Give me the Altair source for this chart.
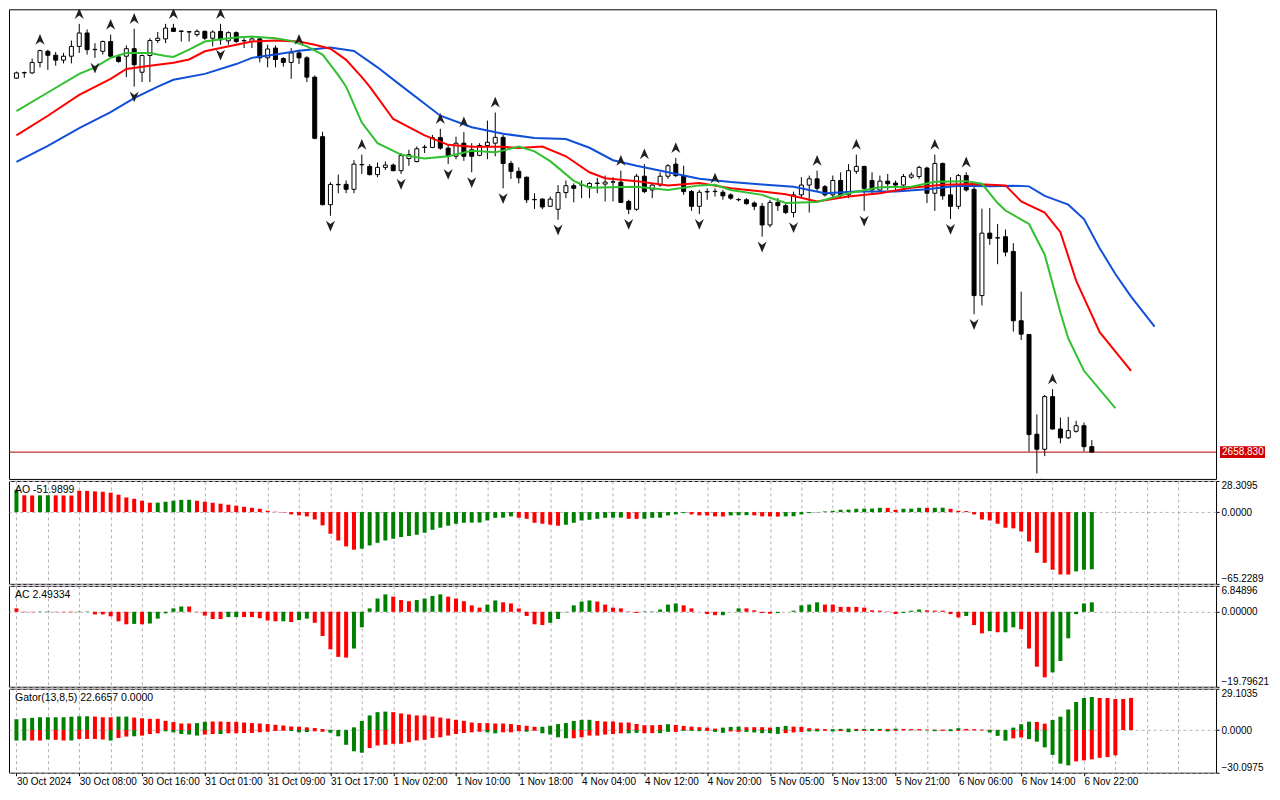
import altair as alt
import pandas as pd

# ------------------------------------------------------------------ data
OPEN = [
    2773.2, 2774.8, 2774.8, 2778.0, 2781.4, 2780.2, 2778.7, 2779.9, 2782.9, 2787.0,
    2781.9, 2781.4, 2784.4, 2779.7, 2779.9, 2782.2, 2775.0, 2780.1, 2784.7, 2785.2,
    2788.5, 2787.6, 2787.3, 2786.5, 2787.5, 2785.4, 2787.5, 2784.6, 2787.1, 2784.6,
    2784.4, 2785.2, 2779.4, 2782.4, 2779.2, 2778.0, 2780.9, 2779.4, 2773.5, 2755.3,
    2734.5, 2740.6, 2740.7, 2739.2, 2746.7, 2746.2, 2743.7, 2745.9, 2746.6, 2744.9,
    2748.6, 2747.7, 2752.0, 2752.0, 2755.0, 2751.8, 2749.3, 2753.3, 2751.3, 2749.6,
    2752.6, 2753.3, 2755.1, 2747.1, 2744.7, 2742.9, 2736.0, 2736.2, 2734.0, 2733.1,
    2738.2, 2740.3, 2740.5, 2740.0, 2741.0, 2740.8, 2741.4, 2741.4, 2735.5, 2733.1,
    2743.2, 2739.0, 2740.5, 2743.2, 2746.9, 2743.4, 2738.5, 2734.0, 2738.4, 2738.5,
    2738.3, 2737.5, 2736.0, 2736.0, 2735.0, 2734.0, 2728.3, 2735.2, 2734.2, 2732.1,
    2737.5, 2740.5, 2742.4, 2740.0, 2737.5, 2741.9, 2737.5, 2744.7, 2746.2, 2741.9,
    2739.0, 2741.7, 2741.1, 2740.5, 2742.9, 2743.1, 2745.7, 2738.0, 2747.1, 2737.5,
    2734.0, 2743.4, 2739.2, 2706.7, 2725.8, 2724.3, 2724.7, 2720.2, 2699.0, 2694.8,
    2664.3, 2659.7, 2675.8, 2665.9, 2663.2, 2665.2, 2666.9, 2660.5,
]
HIGH = [
    2775.2, 2775.2, 2779.2, 2781.9, 2781.9, 2781.2, 2780.9, 2784.7, 2789.8, 2788.1,
    2783.9, 2784.7, 2786.5, 2780.4, 2783.2, 2788.3, 2780.4, 2785.4, 2787.3, 2789.8,
    2789.8, 2787.8, 2787.6, 2788.1, 2787.8, 2787.8, 2789.8, 2787.5, 2787.5, 2785.4,
    2785.6, 2785.4, 2783.4, 2783.2, 2779.6, 2782.4, 2781.9, 2779.9, 2774.0, 2756.8,
    2741.4, 2743.7, 2741.9, 2748.1, 2749.8, 2746.9, 2747.4, 2747.7, 2747.1, 2750.3,
    2751.3, 2752.3, 2752.8, 2755.8, 2757.7, 2752.8, 2755.3, 2756.7, 2753.3, 2753.3,
    2760.2, 2762.7, 2755.8, 2747.9, 2745.9, 2743.1, 2738.0, 2736.5, 2737.0, 2740.5,
    2741.9, 2741.0, 2741.9, 2741.4, 2742.7, 2743.4, 2742.9, 2744.9, 2736.0, 2743.9,
    2746.9, 2740.9, 2744.4, 2746.9, 2748.8, 2746.4, 2739.0, 2739.0, 2739.5, 2739.5,
    2739.0, 2738.0, 2736.5, 2736.5, 2735.5, 2735.0, 2736.0, 2736.5, 2735.0, 2738.5,
    2742.9, 2743.4, 2744.9, 2740.5, 2743.4, 2744.4, 2746.9, 2749.8, 2746.4, 2744.4,
    2743.4, 2743.9, 2741.9, 2743.9, 2744.4, 2746.4, 2746.1, 2749.8, 2747.4, 2742.9,
    2743.9, 2744.4, 2740.9, 2733.3, 2733.5, 2728.6, 2726.9, 2722.7, 2707.9, 2694.9,
    2670.4, 2676.3, 2678.1, 2669.4, 2669.6, 2668.4, 2667.9, 2662.5,
]
LOW = [
    2773.0, 2773.3, 2774.5, 2776.5, 2775.7, 2777.0, 2777.7, 2777.7, 2780.9, 2780.4,
    2779.4, 2780.4, 2779.4, 2777.9, 2773.5, 2770.6, 2772.0, 2772.0, 2783.9, 2783.9,
    2787.3, 2784.4, 2784.4, 2785.9, 2784.9, 2782.9, 2783.4, 2783.4, 2783.9, 2782.4,
    2782.4, 2778.0, 2776.5, 2776.5, 2776.7, 2773.0, 2777.5, 2772.0, 2754.5, 2734.3,
    2731.1, 2738.0, 2738.0, 2738.0, 2743.9, 2743.4, 2742.9, 2745.1, 2744.7, 2743.9,
    2746.4, 2747.4, 2750.3, 2751.8, 2751.3, 2746.9, 2748.4, 2747.9, 2744.4, 2749.3,
    2748.4, 2749.3, 2739.5, 2742.4, 2741.0, 2735.0, 2733.2, 2733.1, 2733.8, 2729.9,
    2736.5, 2735.2, 2736.5, 2736.5, 2738.0, 2735.5, 2735.5, 2735.0, 2731.6, 2732.6,
    2738.0, 2736.5, 2740.0, 2742.4, 2742.9, 2737.5, 2732.6, 2731.6, 2736.0, 2737.0,
    2736.0, 2736.0, 2735.5, 2734.5, 2732.8, 2724.7, 2727.6, 2732.6, 2731.6, 2730.6,
    2736.5, 2732.1, 2738.5, 2737.0, 2736.5, 2736.5, 2736.5, 2743.9, 2732.6, 2737.5,
    2738.5, 2739.0, 2739.0, 2739.0, 2742.4, 2742.4, 2735.0, 2732.6, 2736.0, 2730.1,
    2733.1, 2738.5, 2701.0, 2703.7, 2722.2, 2716.3, 2718.7, 2695.7, 2693.1, 2659.0,
    2652.3, 2657.6, 2665.7, 2661.5, 2662.8, 2664.8, 2659.0, 2658.8,
]
CLOSE = [
    2774.8, 2774.9, 2778.0, 2781.6, 2780.2, 2778.7, 2779.9, 2782.9, 2787.0, 2781.9,
    2782.0, 2784.4, 2779.9, 2778.3, 2782.2, 2777.3, 2780.1, 2784.7, 2785.4, 2788.5,
    2787.5, 2787.5, 2787.4, 2787.5, 2785.4, 2787.3, 2784.9, 2787.1, 2784.4, 2784.7,
    2785.2, 2779.4, 2782.1, 2778.9, 2778.0, 2780.9, 2779.4, 2773.5, 2754.8, 2734.5,
    2740.7, 2740.7, 2739.2, 2746.9, 2746.8, 2743.7, 2745.9, 2746.6, 2744.9, 2749.5,
    2749.8, 2751.6, 2752.1, 2755.0, 2751.8, 2749.3, 2753.3, 2749.3, 2749.3, 2752.6,
    2753.6, 2755.1, 2747.1, 2744.7, 2742.7, 2736.0, 2736.1, 2733.8, 2736.2, 2738.2,
    2740.3, 2739.5, 2740.6, 2741.0, 2741.1, 2741.4, 2741.5, 2735.2, 2733.1, 2743.2,
    2738.5, 2740.5, 2743.2, 2746.4, 2743.4, 2738.5, 2734.0, 2738.3, 2738.5, 2738.6,
    2737.2, 2736.5, 2736.1, 2734.8, 2734.0, 2728.3, 2735.2, 2734.2, 2732.1, 2737.5,
    2740.5, 2742.4, 2739.5, 2737.5, 2741.9, 2737.5, 2744.9, 2746.2, 2739.5, 2739.0,
    2741.7, 2740.9, 2740.5, 2743.1, 2743.6, 2745.9, 2738.0, 2747.1, 2737.2, 2734.0,
    2743.4, 2739.0, 2706.7, 2725.8, 2724.2, 2724.4, 2720.0, 2699.0, 2694.9, 2664.2,
    2659.7, 2675.8, 2665.9, 2663.2, 2665.4, 2666.9, 2660.5, 2658.83,
]

FRACTAL_UP = [3, 8, 12, 15, 20, 26, 36, 44, 54, 57, 61, 77, 80, 84, 89, 102, 107, 117, 121, 132]
FRACTAL_DOWN = [10, 15, 26, 40, 49, 55, 58, 62, 69, 78, 87, 95, 99, 108, 119, 122, 130]

# Alligator (jaw / teeth / lips), shifted lines, read at bar positions
JAW_IDX = [0, 4, 8, 12, 15, 18, 20, 24, 28, 30, 33, 36, 40, 43, 46, 49, 54, 58, 62, 66,
           70, 73, 76, 79, 83, 87, 91, 95, 99, 103, 107, 112, 116, 120, 124, 127, 129,
           131, 134, 136, 138, 140, 142, 145]
JAW_VAL = [2747.6, 2752.5, 2757.9, 2762.8, 2767.1, 2770.6, 2772.7, 2774.5, 2777.5, 2779.4,
           2780.4, 2781.6, 2782.6, 2781.5, 2776.5, 2770.9, 2761.7, 2758.2, 2756.2, 2754.9,
           2754.6, 2751.9, 2748.1, 2746.4, 2744.4, 2742.4, 2741.4, 2740.7, 2740.0, 2738.0,
           2738.5, 2738.5, 2739.2, 2740.3, 2740.1, 2740.3, 2740.1, 2737.2, 2734.5, 2730.1,
           2721.2, 2713.3, 2706.4, 2697.2]
TEETH_IDX = [0, 4, 8, 12, 14, 17, 20, 22, 24, 26, 28, 30, 33, 36, 38, 40, 42, 44, 45, 48,
             52, 55, 58, 62, 64, 67, 70, 73, 75, 79, 83, 87, 91, 95, 98, 102, 106, 110,
             114, 118, 122, 126, 128, 131, 133, 135, 138, 142]
TEETH_VAL = [2755.7, 2761.7, 2768.1, 2773.0, 2776.0, 2777.0, 2777.9, 2778.9, 2781.4, 2782.4,
             2783.4, 2784.4, 2784.7, 2784.4, 2783.4, 2782.2, 2778.8, 2773.5, 2770.6, 2760.7,
             2755.7, 2752.8, 2752.2, 2752.2, 2751.8, 2752.3, 2749.3, 2744.4, 2742.6, 2741.7,
             2740.4, 2741.1, 2739.5, 2738.5, 2737.7, 2735.5, 2737.0, 2738.0, 2739.7, 2740.6,
             2740.8, 2740.4, 2735.5, 2732.1, 2726.1, 2711.3, 2695.5, 2683.7]
LIPS_IDX = [0, 4, 8, 10, 12, 14, 17, 19, 20, 22, 24, 26, 28, 30, 33, 35, 37, 39, 41, 42,
            44, 46, 49, 52, 55, 58, 61, 64, 66, 68, 71, 73, 76, 79, 83, 87, 89, 91, 95, 98,
            102, 106, 110, 114, 117, 121, 123, 125, 126, 129, 131, 133, 134, 136, 140]
LIPS_VAL = [2763.1, 2768.8, 2774.5, 2776.5, 2779.4, 2780.9, 2780.9, 2780.0, 2779.7, 2781.9,
            2784.4, 2785.1, 2785.6, 2785.9, 2785.4, 2784.6, 2782.9, 2780.4, 2774.1, 2770.6,
            2759.6, 2753.3, 2749.8, 2748.6, 2749.3, 2751.0, 2750.5, 2752.3, 2750.8, 2747.8,
            2741.8, 2739.7, 2739.8, 2740.0, 2739.0, 2740.4, 2740.6, 2739.0, 2737.5, 2735.0,
            2735.3, 2738.0, 2739.8, 2740.0, 2741.5, 2741.7, 2740.9, 2735.0, 2732.7, 2728.6,
            2719.2, 2701.5, 2693.6, 2683.7, 2672.3]

AO_VAL = [
    20.3, 15.2, 15.1, 15.2, 15.3, 15.2, 15.1, 15.0, 19.4, 19.3,
    18.8, 18.5, 17.6, 15.8, 13.3, 12.1, 10.3, 8.5, 8.6, 9.4,
    10.3, 11.1, 11.2, 10.3, 9.4, 8.5, 7.6, 6.7, 5.8, 4.8,
    3.9, 3.0, 1.2, 0.3, -0.4, -2.1, -3.0, -3.9, -6.7, -12.1,
    -19.7, -25.8, -31.2, -34.2, -33.3, -30.3, -27.9, -25.8, -24.2, -22.7,
    -21.8, -20.6, -18.8, -16.1, -14.2, -12.4, -10.6, -9.7, -9.6, -9.5,
    -7.6, -5.2, -5.1, -3.9, -5.2, -6.1, -9.7, -10.6, -11.5, -12.4,
    -11.5, -9.7, -7.6, -7.0, -6.1, -5.2, -5.1, -5.0, -6.1, -6.2,
    -6.1, -5.2, -5.1, -3.0, -2.1, -0.9, -2.1, -3.0, -3.1, -3.9,
    -4.0, -3.0, -2.9, -2.8, -3.0, -3.9, -4.0, -4.1, -3.9, -3.8,
    -2.1, -0.9, -0.3, 0.6, 1.2, 2.1, 2.2, 3.0, 3.1, 3.2,
    3.9, 3.8, 2.1, 3.0, 3.1, 3.9, 3.8, 3.9, 4.0, 3.0,
    1.2, 0.9, -2.1, -6.7, -7.6, -10.6, -14.2, -14.8, -17.6, -26.7,
    -37.0, -46.1, -52.4, -56.7, -56.8, -53.9, -52.4, -51.9899,
]
AO_COL = ("GRRGGRRRRR" "RRRRRRRRGG" "GGGRRRRRRR" "RRRRRRRRRR" "RRRRGGGGGG"
          "GGGGGGGGGG" "GGGGRRRRRR" "GGGGGGGGRR" "GGGGGGRRRR" "RGGGRRRRGG"
          "GGGGGGGGGG" "GRRGGGRGGR" "RRRRRRRRRR" "RRRRRGGG")

AC_VAL = [
    0.9, -0.1, -0.1, 0.1, 0.1, -0.1, -0.1, -0.1, 0.1, 0.1,
    -0.7, -0.7, -1.2, -2.5, -3.3, -3.2, -3.3, -3.1, -1.8, -0.4,
    0.9, 1.4, 1.4, -0.1, -1.0, -1.9, -1.9, -1.4, -1.4, -1.4,
    -1.4, -1.7, -2.3, -2.5, -2.5, -2.7, -2.2, -1.8, -2.9, -6.4,
    -9.9, -11.9, -12.1, -9.7, -4.1, 0.9, 3.5, 4.6, 4.0, 3.1,
    2.8, 3.1, 3.5, 4.2, 4.6, 4.0, 3.5, 2.8, 1.7, 1.1,
    1.9, 3.0, 2.5, 2.2, 0.9, -1.1, -3.3, -3.5, -2.9, -1.9,
    -0.1, 1.7, 2.7, 3.0, 2.7, 1.9, 1.1, 0.9, 0.1, -0.3,
    0.1, 0.1, 0.6, 1.9, 2.2, 1.7, 0.9, 0.0, -0.6, -0.9,
    -0.9, 0.0, 0.9, 0.9, 0.4, -0.3, -0.5, -0.3, 0.0, 0.3,
    1.7, 1.9, 2.5, 1.9, 1.9, 1.3, 1.3, 1.3, 1.1, 0.4,
    0.3, 0.1, -0.6, -0.3, 0.3, 0.6, 0.4, 0.3, 0.3, -0.6,
    -1.5, -1.1, -3.5, -5.7, -5.1, -5.4, -5.4, -4.1, -4.6, -9.7,
    -14.5, -17.3, -16.0, -13.0, -7.0, -0.6, 2.2, 2.49334,
]
AC_COL = ("RRRGGRRRGG" "RRRRRGRGGG" "GGRRRRRGGR" "RRRRGRGGRR" "RRRGGGGGRR"
          "RGGGGRRRRR" "GGRRRRRRGG" "GGGGRRRRRR" "GGGGGRRRRR" "GGGRRRRGGG"
          "GGGRRRRRRR" "RRRGGGRRRR" "RGRRGRGGRR" "RRGGGGGG")

GATOR_UP_VAL = [
    7.6, 8.3, 8.6, 9.0, 9.0, 9.0, 9.0, 9.3, 9.7, 9.7,
    9.5, 9.0, 9.0, 9.5, 9.5, 8.8, 8.3, 7.9, 7.9, 6.5,
    5.6, 4.6, 4.6, 4.9, 5.8, 6.0, 6.0, 5.8, 5.8, 5.3,
    4.9, 4.6, 4.2, 3.7, 3.2, 2.5, 2.3, 1.9, 1.4, 0.7,
    0.2, 0.1, 0.1, 1.9, 6.4, 10.3, 12.6, 13.0, 12.6, 11.7,
    11.0, 10.3, 10.3, 9.5, 8.8, 8.1, 7.2, 6.5, 5.3, 4.9,
    4.9, 4.6, 4.6, 4.2, 3.5, 3.0, 2.3, 2.3, 3.0, 4.2,
    4.9, 6.4, 7.2, 7.2, 6.4, 6.0, 6.0, 5.3, 5.3, 4.3,
    3.4, 3.4, 3.6, 4.1, 3.6, 2.9, 2.4, 2.0, 1.7, 1.0,
    1.7, 2.2, 2.4, 2.0, 2.0, 2.0, 1.7, 2.2, 2.9, 2.4,
    2.2, 1.3, 1.0, 0.6, 0.6, 0.8, 1.0, 0.8, 0.8, 0.8,
    0.8, 0.8, 1.0, 0.8, 0.6, 0.6, 0.3, 0.3, 0.3, 0.6,
    1.3, 0.8, 0.6, 0.3, 0.2, 0.1, 0.1, 1.7, 4.1, 5.9,
    5.7, 4.5, 7.1, 9.4, 14.5, 19.8, 22.6, 23.3, 22.6, 22.6,
    21.9, 21.9, 22.6657,
]
GATOR_UP_COL = ("GGGGGGGGGG" "RRRGGRRRRR" "RRRGGRRRRR" "RRRRRRRRRR" "GGGGGGGGRR"
                "RRRRRRRRRR" "RRRRRRRGGG" "GGGGRRRRRR" "RRRGRRRRRR" "GGGRRRRGGR"
                "RRRRGGGRGG" "GRGRRRRRRG" "GRRRRRGGGG" "RRGGGGGGRR" "RRR")
GATOR_DN_VAL = [
    -7.4, -7.4, -7.4, -7.4, -6.7, -6.9, -7.4, -7.4, -6.3, -6.3,
    -6.3, -6.7, -7.4, -5.6, -4.6, -4.4, -3.9, -2.8, -2.3, -0.9,
    -1.6, -2.8, -3.2, -3.9, -3.2, -2.8, -2.8, -2.3, -2.3, -2.1,
    -2.1, -1.6, -1.2, -0.7, -0.5, -0.7, -1.6, -1.4, -0.9, -1.2,
    -1.9, -4.4, -10.4, -15.0, -16.0, -12.7, -10.9, -10.4, -9.7, -9.7,
    -8.6, -7.4, -6.9, -5.6, -5.1, -3.9, -2.8, -2.1, -1.6, -1.2,
    -1.6, -2.3, -1.6, -1.6, -0.9, -1.2, -0.5, -2.3, -3.2, -5.1,
    -5.8, -5.8, -5.1, -3.9, -3.9, -3.2, -2.8, -2.3, -2.3, -2.0,
    -2.2, -2.2, -2.2, -1.3, -1.3, -0.6, -0.6, -0.8, -0.6, -1.3,
    -2.0, -1.0, -1.3, -1.3, -1.7, -2.2, -2.2, -2.7, -2.2, -1.7,
    -1.3, -1.0, -1.0, -0.6, -1.0, -0.8, -1.5, -0.8, -0.6, -0.6,
    -0.6, -1.0, -0.6, -0.3, -0.3, -0.3, -0.3, -0.8, -0.6, -0.8,
    -0.6, -0.3, -0.3, -0.3, -1.7, -4.1, -7.5, -5.9, -5.2, -6.4,
    -8.2, -12.2, -17.5, -23.7, -24.9, -22.1, -21.4, -20.7, -19.6, -19.1,
    -17.9,
]
GATOR_DN_COL = ("GGRRGRRGRR" "RRGRRGRRRG" "GGGGRRGRRR" "RRRRRGGGRR" "GGGGGRRRRR"
                "RRRRRRRRRR" "GGRRRGRGGG" "GRRRRRRRGG" "RRGGRGGGRG" "GRRGGGGGRR"
                "RGGRGRGGRG" "RGRRGRGGRG" "RRRRGGGRRG" "GGGGGRRRRR" "R")

X_LABELS = ["30 Oct 2024", "30 Oct 08:00", "30 Oct 16:00", "31 Oct 01:00", "31 Oct 09:00",
            "31 Oct 17:00", "1 Nov 02:00", "1 Nov 10:00", "1 Nov 18:00", "4 Nov 04:00",
            "4 Nov 12:00", "4 Nov 20:00", "5 Nov 05:00", "5 Nov 13:00", "5 Nov 21:00",
            "6 Nov 06:00", "6 Nov 14:00", "6 Nov 22:00"]
PRICE_TICKS = [2792.765, 2783.290, 2773.815, 2764.340, 2754.865, 2745.390, 2735.915,
               2726.440, 2716.965, 2707.490, 2698.015, 2688.540, 2679.065, 2669.590, 2660.115]
PRICE_RANGE = [2650.63, 2794.245]
AO_RANGE = [-65.2289, 28.3095]
AC_RANGE = [-19.79621, 6.84896]
GATOR_RANGE = [-30.0975, 29.1035]

# ------------------------------------------------------------------ style
FONT = "Liberation Sans"
GRID = "#b8aeb8"
GREEN = "#008000"
RED = "#ff0000"
W = 1208
H_MAIN, H_AO, H_AC, H_GATOR = 470, 103, 101, 84
XDOM = [-0.3125, 152.19]
XGRID = list(range(0, 149, 4))

xs = alt.Scale(domain=XDOM, nice=False, zero=False)
last_lab = 8 * (len(X_LABELS) - 1)
lab_arr = "[" + ",".join("'%s'" % s for s in X_LABELS) + "]"
is_lab = "(datum.value % 8 == 0 && datum.value <= " + str(last_lab) + ")"
label_expr = is_lab + " ? " + lab_arr + "[round(datum.value / 8)] : ''"


def x_axis(labels=False):
    kw = dict(values=XGRID, grid=True, gridColor=GRID, gridDash=[3, 3], gridWidth=1,
              domain=False, title=None)
    if labels:
        kw.update(labels=True, ticks=True, labelExpr=label_expr, labelAlign="left",
                  labelBaseline="top", labelFont=FONT, labelFontSize=10, labelColor="black",
                  labelPadding=1, labelOverlap=False, labelFlush=False, labelBound=False,
                  tickSize=3, tickColor="black",
                  tickOpacity={"condition": {"test": is_lab, "value": 1}, "value": 0})
    else:
        kw.update(labels=False, ticks=False, tickSize=0, labelPadding=0,
                  minExtent=0, maxExtent=0, offset=0)
    return alt.Axis(**kw)


def y_axis(values, fmt, flush):
    return alt.Axis(orient="right", values=values, format=fmt, grid=True, gridColor=GRID,
                    gridDash=[3, 3], domain=False, ticks=True, tickSize=3, tickColor="black",
                    labelFont=FONT, labelFontSize=10, labelColor="black", labelPadding=2,
                    labelFlush=flush, labelOverlap=False, title=None)


def col(letters):
    return [GREEN if ch == "G" else RED for ch in letters]


# ------------------------------------------------------------------ main panel
n = len(CLOSE)
cdf = pd.DataFrame({"i": list(range(n)), "o": OPEN, "h": HIGH, "l": LOW, "c": CLOSE})
cdf["fill"] = ["white" if c >= o else "black" for o, c in zip(OPEN, CLOSE)]
ys = alt.Scale(domain=PRICE_RANGE, nice=False, zero=False)
xn = alt.X("i:Q", scale=xs, axis=None)

wicks = alt.Chart(cdf).mark_rule(color="black", strokeWidth=1).encode(
    x=alt.X("i:Q", scale=xs, axis=x_axis(False)),
    y=alt.Y("l:Q", scale=ys, axis=y_axis(PRICE_TICKS, ".3f", False)),
    y2="h:Q",
)
close_df = pd.DataFrame({"y": [CLOSE[-1]]})
close_line = alt.Chart(close_df).mark_rule(color="#b00000", strokeWidth=1).encode(
    y=alt.Y("y:Q", scale=ys, axis=None))
bodies = alt.Chart(cdf).mark_bar(width=4, stroke="black", strokeWidth=1).encode(
    x=xn, y=alt.Y("o:Q", scale=ys, axis=None), y2="c:Q",
    fill=alt.Fill("fill:N", scale=None))


def line(idx, val, color):
    d = pd.DataFrame({"i": idx, "v": val})
    return alt.Chart(d).mark_line(color=color, strokeWidth=2).encode(
        x=xn, y=alt.Y("v:Q", scale=ys, axis=None))


jaw = line(JAW_IDX, JAW_VAL, "#1050d8")
teeth = line(TEETH_IDX, TEETH_VAL, "#ff0000")
lips = line(LIPS_IDX, LIPS_VAL, "#30c030")

UP_PATH = "M0,-1L0.8,0.9L0,0.3L-0.8,0.9Z"
DOWN_PATH = "M0,1L0.8,-0.9L0,-0.3L-0.8,-0.9Z"
fu = pd.DataFrame({"i": FRACTAL_UP, "y": [HIGH[k] for k in FRACTAL_UP]})
fd = pd.DataFrame({"i": FRACTAL_DOWN, "y": [LOW[k] for k in FRACTAL_DOWN]})
frac_up = alt.Chart(fu).mark_point(shape=UP_PATH, filled=True, size=130, color="#202020",
                                   opacity=1, yOffset=-10, clip=True).encode(
    x=xn, y=alt.Y("y:Q", scale=ys, axis=None))
frac_dn = alt.Chart(fd).mark_point(shape=DOWN_PATH, filled=True, size=130, color="#202020",
                                   opacity=1, yOffset=10, clip=True).encode(
    x=xn, y=alt.Y("y:Q", scale=ys, axis=None))

tag = alt.Chart(close_df).mark_rule(color="#d00000", strokeWidth=12).encode(
    y=alt.Y("y:Q", scale=ys, axis=None), x=alt.value(W + 4), x2=alt.value(W + 49))
tag_text = alt.Chart(close_df).mark_text(color="white", align="left", baseline="middle",
                                         font=FONT, fontSize=10).encode(
    y=alt.Y("y:Q", scale=ys, axis=None), x=alt.value(W + 6),
    text=alt.Text("y:Q", format=".3f"))

main = alt.layer(wicks, close_line, bodies, jaw, teeth, lips, frac_up, frac_dn, tag,
                 tag_text).properties(width=W, height=H_MAIN)


# ------------------------------------------------------------------ sub panels
def label_layer(text):
    d = pd.DataFrame({"t": [text]})
    return alt.Chart(d).mark_text(align="left", baseline="middle", font=FONT, fontSize=10.5,
                                  color="black").encode(
        x=alt.value(6), y=alt.value(9), text=alt.Text("t:N"))


def hist_df(vals, letters):
    return pd.DataFrame({"i": list(range(len(vals))), "v": vals, "col": col(letters)})


def hist(d, rng, fmt, labels=False):
    ysc = alt.Scale(domain=rng, nice=False, zero=False)
    return alt.Chart(d).mark_bar(width=4).encode(
        x=alt.X("i:Q", scale=xs, axis=x_axis(labels)),
        y=alt.Y("v:Q", scale=ysc, axis=y_axis([rng[1], 0, rng[0]], fmt, True)),
        y2=alt.datum(0),
        color=alt.Color("col:N", scale=None))


ao = alt.layer(
    hist(hist_df(AO_VAL, AO_COL), AO_RANGE, ".4f"),
    label_layer(f"AO {AO_VAL[-1]:.4f}"),
).properties(width=W, height=H_AO)

ac = alt.layer(
    hist(hist_df(AC_VAL, AC_COL), AC_RANGE, ".5f"),
    label_layer(f"AC {AC_VAL[-1]:.5f}"),
).properties(width=W, height=H_AC)

gator_df = pd.concat([hist_df(GATOR_UP_VAL, GATOR_UP_COL),
                      hist_df(GATOR_DN_VAL, GATOR_DN_COL)], ignore_index=True)
gator = alt.layer(
    hist(gator_df, GATOR_RANGE, ".4f", labels=True),
    label_layer(f"Gator(13,8,5) {GATOR_UP_VAL[-1]:.4f} {0:.4f}"),
).properties(width=W, height=H_GATOR)

chart = alt.vconcat(main, ao, ac, gator, spacing=2, bounds="flush").properties(
    padding={"left": 0, "top": 0, "right": 0, "bottom": 0},
    background="white",
).configure_view(stroke="black", strokeWidth=1)

chart.save("out.html", embed_options={"renderer": "svg", "actions": False})
